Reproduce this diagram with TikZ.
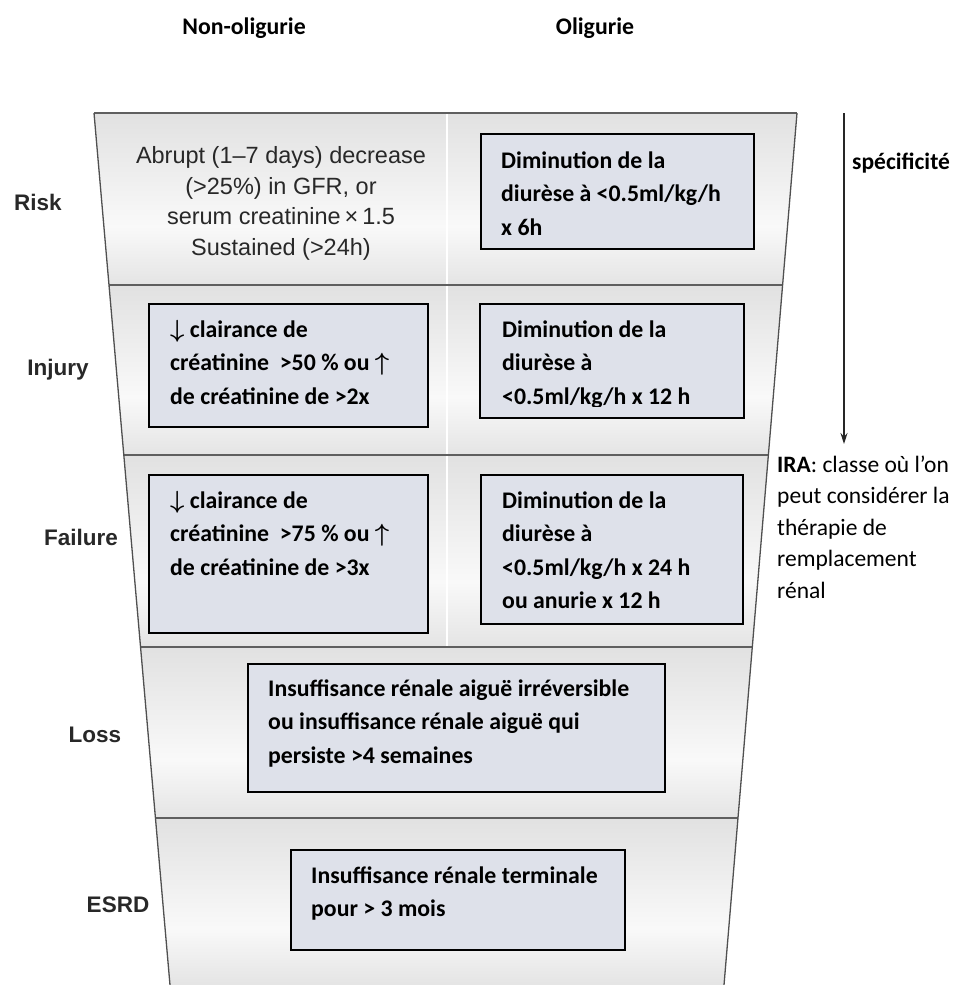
\documentclass[tikz,border=0pt]{standalone}
\usepackage{fontspec}
\setmainfont{Carlito}
\newfontfamily\arialf{Liberation Sans}
\usetikzlibrary{arrows.meta,calc}
\definecolor{boxfill}{RGB}{222,225,234}
\definecolor{bandtop}{RGB}{210,210,210}
\definecolor{bandmid}{RGB}{249,249,249}
\definecolor{bandbot}{RGB}{184,184,184}
\definecolor{edgegray}{RGB}{80,80,80}
\definecolor{linegray}{RGB}{95,95,95}
\definecolor{labelgray}{RGB}{40,40,40}
\pgfdeclareverticalshading{bandshade}{100bp}{color(0bp)=(bandbot); color(10bp)=(bandbot!60!bandmid); color(42bp)=(bandmid); color(80bp)=(bandtop!70!bandmid); color(100bp)=(bandtop)}
\begin{document}
\begin{tikzpicture}[x=1pt,y=-1pt,
  ibox/.style={draw=black, line width=2.3pt, fill=boxfill, inner sep=0pt, anchor=north west},
  txt/.style={font=\fontsize{23.8}{33.6}\selectfont\bfseries, anchor=base west, align=left, inner sep=0pt},
  lab/.style={font=\arialf\bfseries\fontsize{22.5}{26}\selectfont, text=labelgray, inner sep=0pt},
  hdr/.style={font=\bfseries\fontsize{23.8}{28}\selectfont, inner sep=0pt},
  band/.style={shading=bandshade},
  bandline/.style={draw=linegray, line width=2.6pt},
  edge/.style={draw=edgegray, line width=1.3pt}]
\fill[white] (0,0) rectangle (955,985);
\useasboundingbox (0,0) rectangle (955,985);

% funnel geometry
\coordinate (TL) at (94,113);
\coordinate (TR) at (797,113);
\coordinate (BL) at (170,985);
\coordinate (BR) at (724,985);
\coordinate (L1) at ($(TL)!0.1972!(BL)$);
\coordinate (R1) at ($(TR)!0.1972!(BR)$);
\coordinate (L2) at ($(TL)!0.3922!(BL)$);
\coordinate (R2) at ($(TR)!0.3922!(BR)$);
\coordinate (L3) at ($(TL)!0.6124!(BL)$);
\coordinate (R3) at ($(TR)!0.6124!(BR)$);
\coordinate (L4) at ($(TL)!0.8085!(BL)$);
\coordinate (R4) at ($(TR)!0.8085!(BR)$);

\shade[band] (TL) -- (TR) -- (R1) -- (L1) -- cycle;
\shade[band] (L1) -- (R1) -- (R2) -- (L2) -- cycle;
\shade[band] (L2) -- (R2) -- (R3) -- (L3) -- cycle;
\shade[band] (L3) -- (R3) -- (R4) -- (L4) -- cycle;
\shade[band] (L4) -- (R4) -- (BR) -- (BL) -- cycle;

% central divider
\coordinate (D1) at (447,113);
\coordinate (D2) at (447,647);
\draw[white, line width=2.6pt] (D1) -- (D2);

% band lines and sides
\draw[bandline] (TL) -- (TR);
\draw[bandline] (L1) -- (R1);
\draw[bandline] (L2) -- (R2);
\draw[bandline] (L3) -- (R3);
\draw[bandline] (L4) -- (R4);
\draw[edge] (TL) -- (BL);
\draw[edge] (TR) -- (BR);

% headers
\node[hdr] (hnon) at (244,28) {Non-oligurie};
\node[hdr] (holi) at (595,28) {Oligurie};

% stage labels
\node[lab] (risk) at (38,202) {Risk};
\node[lab] (injury) at (58,370) {Injury};
\node[lab] (failure) at (81,537) {Failure};
\node[lab] (loss) at (95,735) {Loss};
\node[lab] (esrd) at (118,905) {ESRD};

% Risk, non-oliguria text (base = last line)
\node[font=\arialf\fontsize{23.5}{30.7}\selectfont, align=center, anchor=base, text=labelgray, inner sep=0pt] (risktxt) at (281,255.6)
  {Abrupt (1–7 days) decrease\\(>25\%) in GFR, or\\serum creatinine\,×\,1.5\\Sustained (>24h)};

% boxes (text nodes anchored at the baseline of their last line)
\node[ibox, minimum width=273pt, minimum height=115pt] (riskR) at (480,133) {};
\node[txt] (riskRt) at (501,235.2) {Diminution de la\\diurèse à <0.5ml/kg/h\\x 6h};

\node[ibox, minimum width=279pt, minimum height=123pt] (injL) at (148,303) {};
\node[txt] (injLt) at (170,404.2) {{\boldmath$\downarrow$} clairance de\\créatinine~ >50 \% ou {\boldmath$\uparrow$}\\de créatinine de >2x};

\node[ibox, minimum width=264pt, minimum height=114pt] (injR) at (479,303) {};
\begin{scope}
\clip (479,303) rectangle (743,406);
\node[txt] (injRt) at (502,404.2) {Diminution de la\\diurèse à\\<0.5ml/kg/h x 12 h};
\end{scope}

\node[ibox, minimum width=279pt, minimum height=158pt] (failL) at (148,474) {};
\node[txt] (failLt) at (170,575.2) {{\boldmath$\downarrow$} clairance de\\créatinine~ >75 \% ou {\boldmath$\uparrow$}\\de créatinine de >3x};

\node[ibox, minimum width=262pt, minimum height=149pt] (failR) at (480,474) {};
\node[txt] (failRt) at (502,608.8) {Diminution de la\\diurèse à\\<0.5ml/kg/h x 24 h\\ou anurie x 12 h};

\node[ibox, minimum width=417pt, minimum height=128pt] (lossB) at (247,663) {};
\node[txt] (lossBt) at (268,763.2) {Insuffisance rénale aiguë irréversible\\ou insuffisance rénale aiguë qui\\persiste >4 semaines};

\node[ibox, minimum width=334pt, minimum height=100pt] (esrdB) at (290,849) {};
\node[txt] (esrdBt) at (311,916.6) {Insuffisance rénale terminale\\pour > 3 mois};

% specificity arrow
\coordinate (arrtop) at (844,113);
\coordinate (arrtip) at (844,444);
\draw[line width=1.3pt, draw=black!85, fill=black!85, -{Stealth[length=11pt,width=7pt]}] (arrtop) -- (arrtip);
\node[font=\fontsize{23.5}{28}\selectfont\bfseries, anchor=base west, inner sep=0pt] (spec) at (852,169) {spécificité};

\node[font=\fontsize{23.5}{31.6}\selectfont, anchor=base west, align=left, inner sep=0pt] (ira) at (777,598.4)
  {\textbf{IRA}: classe où l’on\\peut considérer la\\thérapie de\\remplacement\\rénal};
\end{tikzpicture}
\end{document}
